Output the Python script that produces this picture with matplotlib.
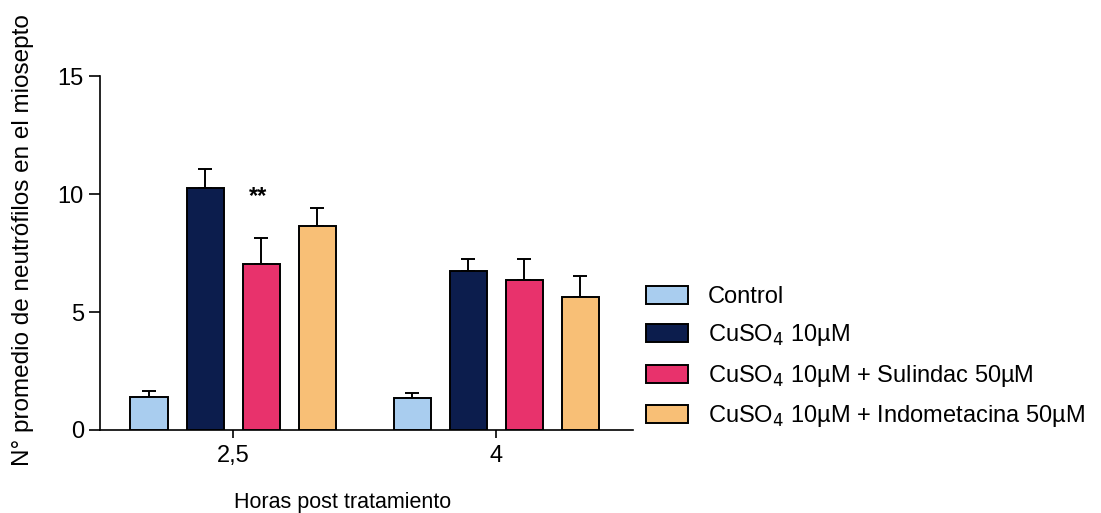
import matplotlib
matplotlib.use('Agg')
import matplotlib.pyplot as plt
import numpy as np

plt.rcParams['font.family'] = ['Liberation Sans', 'DejaVu Sans']

# mean counts and upper SEM per time point
horas      = ['2,5', '4']
grupos     = ['Control', r'CuSO$_4$ 10µM', r'CuSO$_4$ 10µM + Sulindac 50µM',
              r'CuSO$_4$ 10µM + Indometacina 50µM']
control    = [1.41, 1.34]
cuso4      = [10.27, 6.74]
sulindac   = [7.05, 6.34]
indometac  = [8.64, 5.65]
err_ctrl   = [0.25, 0.21]
err_cuso4  = [0.80, 0.52]
err_sul    = [1.10, 0.92]
err_indo   = [0.75, 0.89]

colores = ['#a9cdef', '#0c1d4d', '#e8326c', '#f8bf76']

fig = plt.figure(figsize=(11.01, 5.13), dpi=100)
ax = fig.add_axes([0.0908, 0.1618, 0.484, 0.690])

x = np.arange(len(horas))
paso = 0.213
ancho = 0.141
series = [control, cuso4, sulindac, indometac]
errores = [err_ctrl, err_cuso4, err_sul, err_indo]
for i, (vals, err, c, lab) in enumerate(zip(series, errores, colores, grupos)):
    pos = x + (i - 1.5) * paso
    ax.bar(pos, vals, width=ancho, color=c, edgecolor='black', linewidth=1.4,
           label=lab, zorder=3)
    ax.errorbar(pos, vals, yerr=[np.zeros(len(vals)), err], fmt='none',
                ecolor='black', elinewidth=1.4, capsize=5, capthick=1.4, zorder=2)

# significance mark over the sulindac bar at 2,5 h
ax.text(x[0] + 0.5 * paso - 0.01, 9.9, '**', ha='center', va='center',
        fontsize=17, fontweight='bold')

ax.set_xlim(-0.506, 1.52)
ax.set_ylim(0, 15)
ax.set_yticks([0, 5, 10, 15])
ax.set_xticks(x)
ax.set_xticklabels(horas)
ax.tick_params(axis='both', labelsize=17, width=1.2, length=8, direction='out')
ax.tick_params(axis='x', length=6, pad=5)
for s in ['top', 'right']:
    ax.spines[s].set_visible(False)
for s in ['left', 'bottom']:
    ax.spines[s].set_linewidth(1.2)

fig.text(0.021, 0.532, 'N° promedio de neutrófilos en el miosepto', rotation=90,
         ha='center', va='center', fontsize=17.5)
fig.text(0.3115, 0.01, 'Horas post tratamiento', ha='center', va='baseline', fontsize=15.5)

ax.legend(loc='center left', bbox_to_anchor=(1.007, 0.205), frameon=False,
          borderaxespad=0, fontsize=17, handlelength=1.78, handleheight=0.8,
          handletextpad=0.85, labelspacing=0.61)

fig.savefig('out.png', dpi=100)
